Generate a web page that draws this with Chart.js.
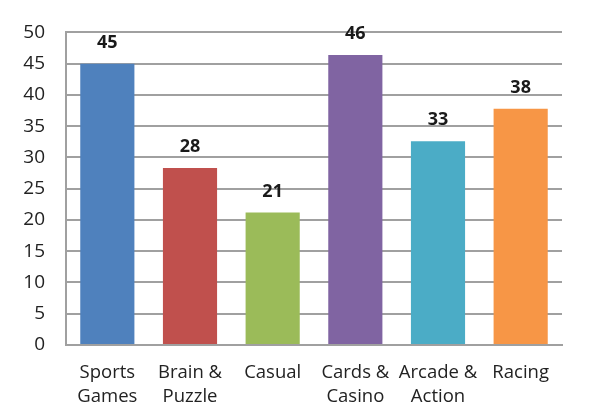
<!DOCTYPE html>
<html>
<head>
<meta charset="utf-8">
<script src="https://cdn.jsdelivr.net/npm/chart.js@4/dist/chart.umd.min.js"></script>
<style>
  html, body { margin: 0; padding: 0; background: #fff; }
  #wrap { width: 600px; height: 416px; }
</style>
</head>
<body>
<div id="wrap"><canvas id="myChart"></canvas></div>
<script>
// Chart data
const categories = [['Sports', 'Games'], ['Brain &', 'Puzzle'], ['Casual'], ['Cards &', 'Casino'], ['Arcade &', 'Action'], ['Racing']];
const values = [45, 28.3, 21.2, 46.4, 32.6, 37.8];
const valueLabels = ['45', '28', '21', '46', '33', '38'];
const barColors = ['#4F81BD', '#C0504D', '#9BBB59', '#8064A2', '#4BACC6', '#F79646'];

const fontFamily = '"Open Sans", "DejaVu Sans", sans-serif';

// Plugin to write value labels above bars
const valueLabelPlugin = {
  id: 'valueLabels',
  afterDatasetsDraw(chart) {
    const ctx = chart.ctx;
    const meta = chart.getDatasetMeta(0);
    ctx.save();
    ctx.font = 'bold 18px ' + fontFamily;
    ctx.fillStyle = '#1a1a1a';
    ctx.textAlign = 'center';
    ctx.textBaseline = 'middle';
    meta.data.forEach((bar, i) => {
      ctx.fillText(valueLabels[i], bar.x, bar.y - 21);
    });
    ctx.restore();
  }
};

const config = {
  type: 'bar',
  data: {
    labels: categories,
    datasets: [{
      data: values,
      backgroundColor: barColors,
      borderWidth: 0,
      categoryPercentage: 1,
      barPercentage: 0.655
    }]
  },
  options: {
    responsive: true,
    maintainAspectRatio: false,
    animation: false,
    layout: { padding: { top: 32, right: 38, bottom: 0, left: 0 } },
    plugins: {
      legend: { display: false },
      tooltip: { enabled: false }
    },
    scales: {
      x: {
        grid: { display: false, drawTicks: false },
        border: { display: true, color: '#a0a0a0', width: 2 },
        ticks: {
          color: '#222',
          padding: 16,
          font: { family: fontFamily, size: 18.5, lineHeight: 1.3 },
          maxRotation: 0,
          autoSkip: false
        },
        afterFit(scale) { scale.height = 71; }
      },
      y: {
        min: 0,
        max: 50,
        grid: { color: '#a0a0a0', lineWidth: 2, drawTicks: false },
        border: { display: true, color: '#a0a0a0', width: 2 },
        ticks: {
          stepSize: 5,
          color: '#222',
          padding: 21,
          font: { family: fontFamily, size: 19 }
        },
        afterFit(scale) { scale.width = 66; }
      }
    }
  },
  plugins: [valueLabelPlugin]
};

const myChart = new Chart('myChart', config);
</script>
</body>
</html>
